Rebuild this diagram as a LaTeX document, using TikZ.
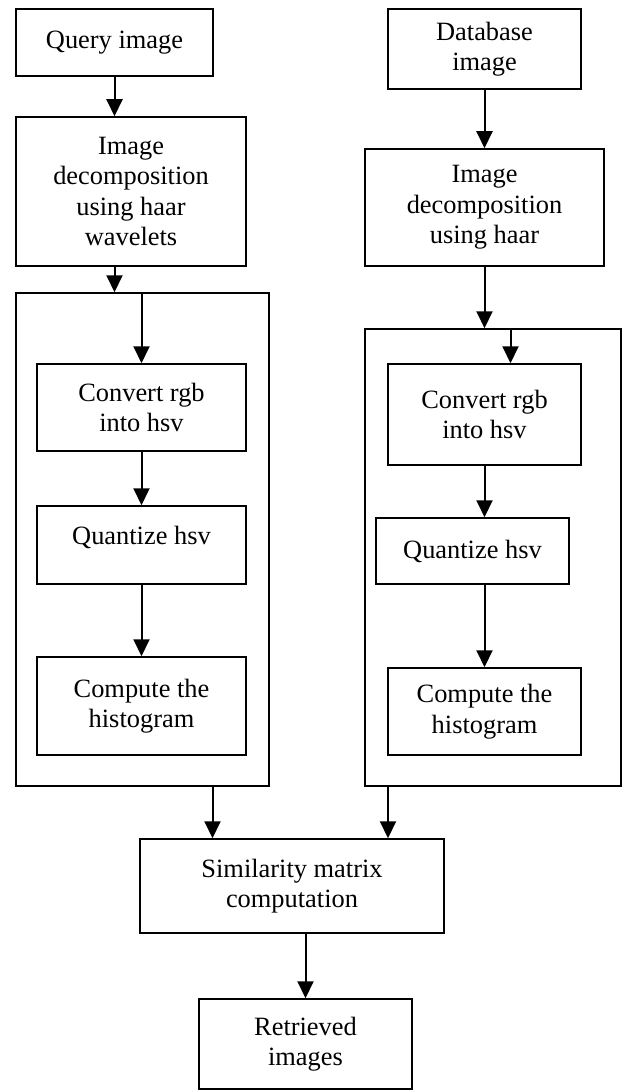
\documentclass[tikz,border=0pt]{standalone}
\usepackage{fontspec}
\setmainfont{Liberation Serif}
\usetikzlibrary{arrows.meta}

\begin{document}
\begin{tikzpicture}[x=0.5pt,y=-0.5pt,
                blk/.style={draw,line width=0.75pt,align=center,inner sep=0pt,font=\fontsize{13.2}{15.2}\selectfont},
                arr/.style={-{Triangle[length=8.5pt,width=8pt]},line width=1pt}]
                \useasboundingbox (0,0) rectangle (627,1091);
                \node[blk,minimum width=126.5pt,minimum height=246.5pt] (qouter) at (142.5,539.5) {};
                \node[blk,minimum width=128pt,minimum height=228.5pt] (douter) at (493,557.5) {};
                \node[blk,minimum width=98.5pt,minimum height=33.5pt] (query) at (114.5,42.5) {Query image};
                \node[blk,minimum width=115pt,minimum height=74.5pt] (qdec) at (131,191.5) {Image\\decomposition\\using haar\\wavelets};
                \node[blk,minimum width=104.5pt,minimum height=43.5pt] (qconv) at (141.5,407.5) {Convert rgb\\into hsv};
                \node[blk,minimum width=104.5pt,minimum height=39pt,text height=9pt,text depth=10pt] (qquant) at (141.5,545) {Quantize hsv};
                \node[blk,minimum width=104.5pt,minimum height=49pt] (qcomp) at (141.5,706) {Compute the\\histogram};
                \node[blk,minimum width=96.5pt,minimum height=40pt] (db) at (484.5,49) {Database\\image};
                \node[blk,minimum width=119.5pt,minimum height=58.5pt] (ddec) at (484.5,207.5) {Image\\decomposition\\using haar};
                \node[blk,minimum width=96.5pt,minimum height=50.5pt] (dconv) at (484.5,414.5) {Convert rgb\\into hsv};
                \node[blk,minimum width=96.5pt,minimum height=33pt] (dquant) at (472.5,551) {Quantize hsv};
                \node[blk,minimum width=96.5pt,minimum height=43.5pt] (dcomp) at (484.5,711.5) {Compute the\\histogram};
                \node[blk,minimum width=152pt,minimum height=47pt] (sim) at (292,886) {Similarity matrix\\computation};
                \node[blk,minimum width=106.5pt,minimum height=45pt] (ret) at (305.5,1044) {Retrieved\\images};
                \draw[arr] (query.south) -- (query.south |- qdec.north);
                \draw[arr] (qdec.south -| query) -- (query |- qouter.north);
                \draw[arr] (qouter.north -| qconv) -- (qconv.north);
                \draw[arr] (qconv.south) -- (qquant.north);
                \draw[arr] (qquant.south) -- (qcomp.north);
                \draw[arr] (db.south) -- (ddec.north);
                \draw[arr] (ddec.south) -- (ddec.south |- douter.north);
                \draw[arr] ([xshift=13pt]dconv.north |- douter.north) -- ([xshift=13pt]dconv.north);
                \draw[arr] (dconv.south) -- (dconv.south |- dquant.north);
                \draw[arr] (dquant.south -| dcomp) -- (dcomp.north);
                \draw[arr] ([xshift=35pt]qouter.south) -- ([xshift=35pt]qouter.south |- sim.north);
                \draw[arr] ([xshift=-52.5pt]douter.south) -- ([xshift=-52.5pt]douter.south |- sim.north);
                \draw[arr] (sim.south -| ret) -- (ret.north);
\end{tikzpicture}
\end{document}
